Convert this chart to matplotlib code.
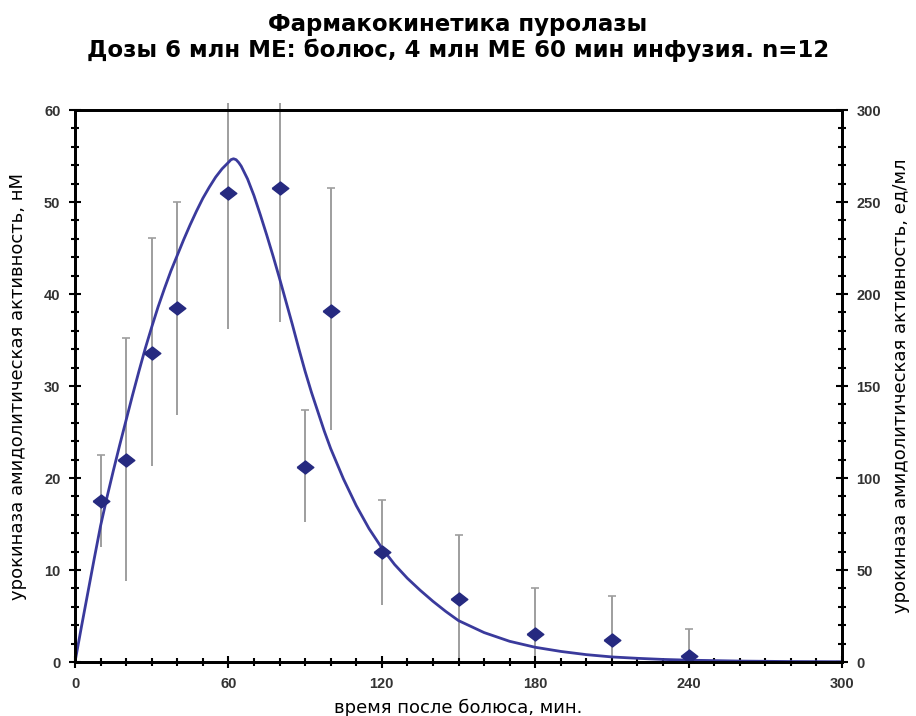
import numpy as np
import matplotlib
matplotlib.use('Agg')
from matplotlib import pyplot as plt
from matplotlib.ticker import MultipleLocator

# measured points: time (min), mean activity (nM), error below / above
time = [10, 20, 30, 40, 60, 80, 90, 100, 120, 150, 180, 210, 240]
mean = [17.5, 22.0, 33.6, 38.5, 51.0, 51.5, 21.2, 38.2, 12.0, 6.8, 3.0, 2.4, 0.6]
err_lo = [5.0, 13.2, 12.3, 11.6, 14.8, 14.5, 6.0, 13.0, 5.8, 6.8, 3.0, 2.4, 0.6]
err_hi = [5.0, 13.2, 12.5, 11.5, 9.8, 9.3, 6.2, 13.3, 5.6, 7.0, 5.0, 4.8, 3.0]

# model curve
curve_t = [0, 2.5, 5, 7.5, 10, 12.5, 15, 17.5, 20, 22.5, 25, 27.5, 30, 32.5, 35, 37.5,
           40, 42.5, 45, 47.5, 50, 52.5, 55, 57.5, 60, 61, 62, 63, 64, 65, 67.5, 70,
           72.5, 75, 77.5, 80, 82.5, 85, 87.5, 90, 92.5, 95, 97.5, 100, 105, 110, 115,
           120, 125, 130, 135, 140, 145, 150, 160, 170, 180, 190, 200, 210, 220, 230,
           240, 260, 280, 300]
curve_c = [0, 3.8, 7.5, 11.2, 14.8, 17.9, 20.8, 23.6, 26.3, 29.0, 31.6, 34.1, 36.4, 38.6,
           40.6, 42.5, 44.2, 45.9, 47.5, 49.0, 50.4, 51.6, 52.7, 53.6, 54.3, 54.6, 54.7,
           54.6, 54.3, 53.9, 52.5, 50.7, 48.6, 46.4, 44.1, 41.7, 39.2, 36.7, 34.1, 31.6,
           29.3, 27.2, 25.1, 23.2, 19.9, 17.0, 14.5, 12.4, 10.6, 9.1, 7.8, 6.6, 5.5, 4.5,
           3.2, 2.25, 1.6, 1.15, 0.8, 0.55, 0.4, 0.28, 0.2, 0.1, 0.05, 0.03]

fig = plt.figure(figsize=(9.16, 7.16), dpi=100)
ax = fig.add_axes([75/916, 1-662/716, 767/916, 552/716])

zeros = [0] * len(time)
ax.errorbar(time, mean, yerr=[err_lo, err_hi], fmt='none', ecolor='#9e9e9e',
            elinewidth=1.4, capsize=0, clip_on=False, zorder=1)
# small caps only on the upper ends that stay inside the frame
tops = [m + e for m, e in zip(mean, err_hi)]
cap_t = [t for t, v in zip(time, tops) if v < 60]
cap_v = [v for v in tops if v < 60]
ax.plot(cap_t, cap_v, '_', color='#9e9e9e', markersize=6, markeredgewidth=1.2, zorder=1)

ax.plot(curve_t, curve_c, '-', color='#3a3a9c', lw=2.0, zorder=2)
diamond = [(-1, 0), (0, 0.78), (1, 0), (0, -0.78), (-1, 0)]
ax.plot(time, mean, linestyle='none', marker=diamond, color='#262a80',
        markersize=12, zorder=3, clip_on=False)

ax.set_xlim(0, 300)
ax.set_ylim(0, 60)
ax.xaxis.set_major_locator(MultipleLocator(60))
ax.xaxis.set_minor_locator(MultipleLocator(10))
ax.yaxis.set_major_locator(MultipleLocator(10))
ax.yaxis.set_minor_locator(MultipleLocator(2))

ax2 = ax.twinx()
ax2.set_ylim(0, 300)
ax2.yaxis.set_major_locator(MultipleLocator(50))
ax2.yaxis.set_minor_locator(MultipleLocator(10))

for a in (ax, ax2):
    a.tick_params(which='major', direction='inout', length=9, width=1.5,
                  labelsize=10.5, labelcolor='#333333', pad=6)
    a.tick_params(which='minor', direction='inout', length=6, width=1.5)
    for lab in a.get_xticklabels() + a.get_yticklabels():
        lab.set_fontweight('bold')
        lab.set_family(['Liberation Sans', 'DejaVu Sans'])
    for s in a.spines.values():
        s.set_linewidth(2)
        s.set_color('black')

ax.set_xlabel('время после болюса, мин.', fontsize=13, labelpad=6)
ax.set_ylabel('урокиназа амидолитическая активность, нМ', fontsize=13, labelpad=12)
ax2.set_ylabel('урокиназа амидолитическая активность, ед/мл', fontsize=13, labelpad=8)

fig.text(0.5, 1-24/716, 'Фармакокинетика пуролазы', ha='center', va='center',
         fontsize=16.5, fontweight='bold')
fig.text(0.5, 1-50/716, 'Дозы 6 млн МЕ: болюс, 4 млн МЕ 60 мин инфузия. n=12',
         ha='center', va='center', fontsize=16.5, fontweight='bold')

fig.savefig('out.png', dpi=100)
